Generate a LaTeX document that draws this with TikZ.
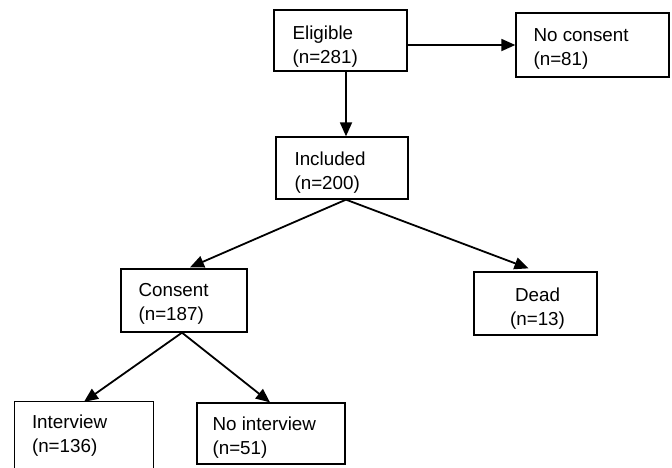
\documentclass[tikz,border=0pt]{standalone}
\usepackage{fontspec}
\setmainfont{Liberation Sans}
\usetikzlibrary{arrows.meta}
\begin{document}
\begin{tikzpicture}[x=1pt,y=-1pt,
  boxline/.style={draw=black,line width=1.3pt},
  flowbox/.style={boxline,rectangle,inner sep=0pt},
  boxtext/.style={inner sep=0pt,align=left,font=\fontsize{18.8}{24}\selectfont},
  flowarrow/.style={line width=1.8pt,-{Triangle[length=14pt,width=12pt]}},
  flowline/.style={line width=1.8pt}]
\useasboundingbox (0,0) rectangle (672,467);
\clip (0,0) rectangle (672,467);
% boxes
\node[flowbox,minimum width=133pt,minimum height=61pt] (elig) at (340.5,40.5) {};
\node[flowbox,minimum width=153pt,minimum height=64pt] (nocons) at (592.5,45) {};
\node[flowbox,minimum width=132pt,minimum height=62pt] (incl) at (342,168) {};
\node[flowbox,minimum width=126pt,minimum height=63pt] (cons) at (184,300.5) {};
\node[flowbox,minimum width=123pt,minimum height=63pt] (dead) at (535.5,303.5) {};
\node[inner sep=0pt,minimum width=138pt,minimum height=64pt] (interv) at (84,434) {};
\draw[boxline] ([yshift=-12pt]interv.south west) |- (interv.north east) -- ([yshift=-12pt]interv.south east);
\node[flowbox,minimum width=148pt,minimum height=61pt] (nointerv) at (271,433.5) {};
% texts
\node[boxtext,anchor=north west] (elig-t) at ([xshift=19pt,yshift=-16pt]elig.north west) {Eligible\\(n=281)};
\node[boxtext,anchor=north west] (nocons-t) at ([xshift=18pt,yshift=-16pt]nocons.north west) {No consent\\(n=81)};
\node[boxtext,anchor=north west] (incl-t) at ([xshift=19pt,yshift=-15pt]incl.north west) {Included\\(n=200)};
\node[boxtext,anchor=north west] (cons-t) at ([xshift=18pt,yshift=-15pt]cons.north west) {Consent\\(n=187)};
\node[boxtext,anchor=north,align=center] (dead-t) at ([xshift=2pt,yshift=-16pt]dead.north) {Dead\\(n=13)};
\node[boxtext,anchor=north west] (interv-t) at ([xshift=17pt,yshift=-13pt]interv.north west) {Interview\\(n=136)};
\node[boxtext,anchor=north west] (nointerv-t) at ([xshift=16pt,yshift=-14pt]nointerv.north west) {No interview\\(n=51)};
% connectors
\draw[flowarrow] (elig.east |- nocons.west) -- (nocons.west);
\coordinate (eligdown) at ([xshift=5.5pt]elig.south);
\draw[flowarrow] (eligdown) -- (eligdown |- incl.north);
\coordinate (inclsplit) at ([xshift=4pt]incl.south);
\draw[flowarrow] (inclsplit) -- ([xshift=6pt,yshift=1pt]cons.north);
\draw[flowarrow] (inclsplit) -- ([xshift=-7pt,yshift=3pt]dead.north);
\coordinate (conssplit) at ([xshift=-2pt]cons.south);
\draw[flowarrow] (conssplit) -- (interv.north);
\draw[flowarrow] (conssplit) -- ([xshift=-1pt]nointerv.north);
\end{tikzpicture}
\end{document}
